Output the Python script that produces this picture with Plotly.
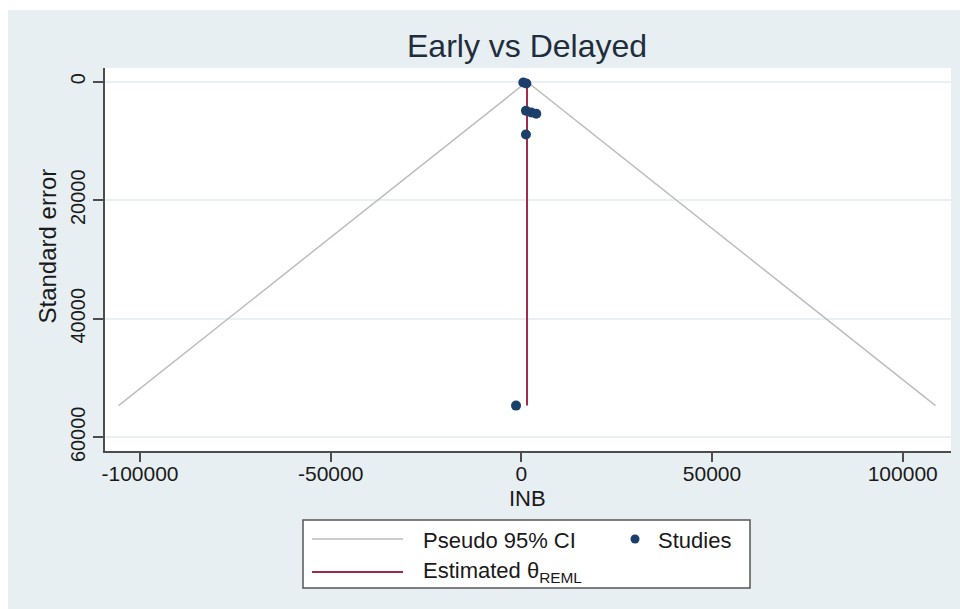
import plotly.graph_objects as go

# Study-level estimates: incremental net benefit and its standard error
inb = [500, 1300, 1200, 2600, 3900, 1200, -1400]
se = [150, 300, 4900, 5200, 5400, 8900, 54650]

# Pooled estimate (REML)
theta_reml = 1480

# Axis ticks
x_ticks = [-100000, -50000, 0, 50000, 100000]
x_ticklabels = ["-100000", "-50000", "0", "50000", "100000"]
y_ticks = [0, 20000, 40000, 60000]
y_ticklabels = ["0", "20000", "40000", "60000"]

FONT = "Liberation Sans, Arial, Helvetica, sans-serif"
BG = "#e7eff2"
NAVY = "#1a3f6a"
MAROON = "#a02c4a"
CI_GRAY = "#bdbdbd"
AXIS = "#4d4d4d"

# Plot-area geometry in pixels (used to place decorations in paper coords)
W, H = 960, 609
L, R, T, B = 105, 9, 68, 158
PW, PH = W - L - R, H - T - B


def px(xp):
    return (xp - L) / PW


def py(yp):
    return (H - B - yp) / PH


se_max = max(se)
ci_x = [theta_reml - 1.96 * se_max, theta_reml, theta_reml + 1.96 * se_max]
ci_y = [se_max, 0, se_max]

fig = go.Figure()

# Pseudo 95% confidence funnel
fig.add_trace(go.Scatter(
    x=ci_x, y=ci_y, mode="lines",
    line=dict(color=CI_GRAY, width=1.5),
    name="Pseudo 95% CI", showlegend=False, hoverinfo="skip",
))

# Estimated pooled effect
fig.add_trace(go.Scatter(
    x=[theta_reml, theta_reml], y=[0, se_max], mode="lines",
    line=dict(color=MAROON, width=2),
    name="Estimated θREML", showlegend=False, hoverinfo="skip",
))

# Individual studies
fig.add_trace(go.Scatter(
    x=inb, y=se, mode="markers",
    marker=dict(color=NAVY, size=10, symbol="circle"),
    name="Studies", showlegend=False,
))

shapes = [
    # white frame strips around the light panel
    dict(type="rect", xref="paper", yref="paper", layer="below",
         x0=px(0), x1=px(W), y0=py(0), y1=py(10),
         fillcolor="white", line=dict(width=0)),
    dict(type="rect", xref="paper", yref="paper", layer="below",
         x0=px(0), x1=px(8), y0=py(0), y1=py(H),
         fillcolor="white", line=dict(width=0)),
    # legend box
    dict(type="rect", xref="paper", yref="paper",
         x0=px(303), x1=px(750), y0=py(520), y1=py(588),
         fillcolor="white", line=dict(color="#555555", width=1.5)),
    # legend samples
    dict(type="line", xref="paper", yref="paper",
         x0=px(312), x1=px(403), y0=py(539), y1=py(539),
         line=dict(color=CI_GRAY, width=1.5)),
    dict(type="line", xref="paper", yref="paper",
         x0=px(312), x1=px(403), y0=py(572), y1=py(572),
         line=dict(color=MAROON, width=2)),
    dict(type="circle", xref="paper", yref="paper",
         x0=px(630.5), x1=px(639.5), y0=py(534.5), y1=py(543.5),
         fillcolor=NAVY, line=dict(color=NAVY, width=0)),
]

annotations = [
    dict(text="Early vs Delayed", x=px(526.5), y=py(46), xref="paper", yref="paper",
         xanchor="center", yanchor="middle", showarrow=False,
         font=dict(family=FONT, size=32, color="#1f2d3d")),
    dict(text="INB", x=px(527), y=py(498), xref="paper", yref="paper",
         xanchor="center", yanchor="middle", showarrow=False,
         font=dict(family=FONT, size=22, color="#1a1a1a")),
    dict(text="Standard error", x=px(47), y=py(246.5), xref="paper", yref="paper",
         xanchor="center", yanchor="middle", textangle=-90, showarrow=False,
         font=dict(family=FONT, size=24, color="#1a1a1a")),
    dict(text="Pseudo 95% CI", x=px(421), y=py(540), xref="paper", yref="paper",
         xanchor="left", yanchor="middle", showarrow=False,
         font=dict(family=FONT, size=22, color="#1a1a1a")),
    dict(text="Estimated θ<sub>REML</sub>", x=px(421), y=py(572), xref="paper", yref="paper",
         xanchor="left", yanchor="middle", showarrow=False,
         font=dict(family=FONT, size=22, color="#1a1a1a")),
    dict(text="Studies", x=px(656), y=py(540), xref="paper", yref="paper",
         xanchor="left", yanchor="middle", showarrow=False,
         font=dict(family=FONT, size=22, color="#1a1a1a")),
]

fig.update_layout(
    width=W, height=H, autosize=False,
    margin=dict(l=L, r=R, t=T, b=B, pad=0),
    paper_bgcolor=BG, plot_bgcolor="white",
    font=dict(family=FONT, color="#1a1a1a"),
    showlegend=False,
    shapes=shapes, annotations=annotations,
    xaxis=dict(
        range=[-109180, 112660], tickmode="array",
        tickvals=x_ticks, ticktext=x_ticklabels,
        showgrid=False, zeroline=False,
        showline=True, linecolor=AXIS, linewidth=1.5,
        ticks="outside", ticklen=9, tickwidth=1.5, tickcolor=AXIS,
        tickfont=dict(family=FONT, size=21, color="#1a1a1a"),
        ticklabelstandoff=-6,
        automargin=False,
    ),
    yaxis=dict(
        range=[62310, -2310], tickmode="array",
        tickvals=y_ticks, ticktext=y_ticklabels, tickangle=-90,
        showgrid=True, gridcolor="#e8f0f2", gridwidth=1.5,
        zeroline=False,
        showline=True, linecolor=AXIS, linewidth=1.5,
        ticks="outside", ticklen=10, tickwidth=1.5, tickcolor=AXIS,
        tickfont=dict(family=FONT, size=20, color="#1a1a1a"),
        automargin=False,
    ),
)

fig.write_html("out.html")
